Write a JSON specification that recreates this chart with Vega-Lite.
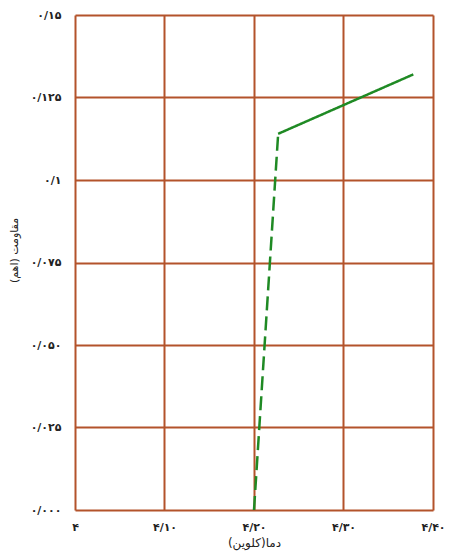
{
  "$schema": "https://vega.github.io/schema/vega-lite/v6.json",
  "autosize": "none",
  "width": 358,
  "height": 495,
  "padding": {"left": 75, "top": 15, "right": 21, "bottom": 41},
  "background": "white",
  "config": {"view": {"stroke": null}, "font": "DejaVu Sans"},
  "data": {"values": [
    {"t": 4.2, "r": 0.0, "seg": "dashed"},
    {"t": 4.227, "r": 0.114, "seg": "dashed"},
    {"t": 4.227, "r": 0.114, "seg": "solid"},
    {"t": 4.378, "r": 0.132, "seg": "solid"}
  ]},
  "mark": {"type": "line", "color": "#1f8a24", "strokeWidth": 2.5},
  "encoding": {
    "x": {
      "field": "t", "type": "quantitative",
      "scale": {"domain": [4, 4.4], "nice": false, "zero": false},
      "axis": {
        "values": [4, 4.1, 4.2, 4.3, 4.4],
        "labelExpr": "datum.value < 4.05 ? '۴' : datum.value < 4.15 ? '۴/۱۰' : datum.value < 4.25 ? '۴/۲۰' : datum.value < 4.35 ? '۴/۳۰' : '۴/۴۰'",
        "title": "دما(کلوین)",
        "titleFontSize": 12, "titleFontWeight": "normal", "titleColor": "#222",
        "titlePadding": 5,
        "labelFontSize": 11, "labelFontWeight": "bold", "labelColor": "#222", "labelPadding": 11,
        "domain": false, "ticks": false,
        "grid": true, "gridColor": "#b3532b", "gridWidth": 2, "gridOpacity": 1,
        "labelFlush": false
      }
    },
    "y": {
      "field": "r", "type": "quantitative",
      "scale": {"domain": [0, 0.15], "nice": false},
      "axis": {
        "values": [0, 0.025, 0.05, 0.075, 0.1, 0.125, 0.15],
        "labelExpr": "datum.value < 0.01 ? '۰/۰۰۰' : datum.value < 0.03 ? '۰/۰۲۵' : datum.value < 0.06 ? '۰/۰۵۰' : datum.value < 0.08 ? '۰/۰۷۵' : datum.value < 0.11 ? '۰/۱' : datum.value < 0.13 ? '۰/۱۲۵' : '۰/۱۵'",
        "title": "مقاومت (اهم)",
        "titleFontSize": 11, "titleFontWeight": "normal", "titleColor": "#222",
        "titleX": -56, "titleY": 235,
        "labelFontSize": 11, "labelFontWeight": "bold", "labelColor": "#222", "labelPadding": 14,
        "domain": false, "ticks": false,
        "grid": true, "gridColor": "#b3532b", "gridWidth": 2, "gridOpacity": 1,
        "labelFlush": false
      }
    },
    "strokeDash": {
      "field": "seg", "type": "nominal",
      "scale": {"domain": ["solid", "dashed"], "range": [[1, 0], [14, 6]]},
      "legend": null
    }
  }
}
